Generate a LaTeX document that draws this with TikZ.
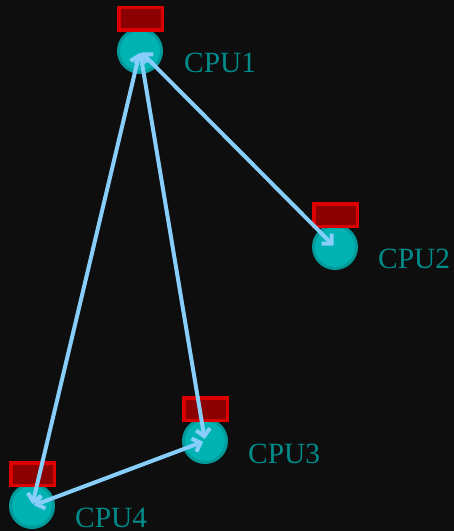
\documentclass[tikz,border=0pt]{standalone}
\usepackage{fontspec}
\setmainfont{Liberation Serif}
\usetikzlibrary{arrows.meta,calc}

\definecolor{bgdark}{HTML}{0E0E0E}
\definecolor{cpufill}{HTML}{00B3B3}
\definecolor{cpuring}{HTML}{009A9A}
\definecolor{cputext}{HTML}{008B8B}
\definecolor{lockred}{HTML}{DD0000}
\definecolor{lockfill}{HTML}{8B0000}
\definecolor{linkblue}{HTML}{87CEFA}

\begin{document}
\begin{tikzpicture}[x=1bp,y=-1bp,
  cpu/.style={circle,fill=cpufill,draw=cpuring,line width=3bp,minimum size=43bp,inner sep=0pt},
  lock/.style={rectangle,fill=lockfill,draw=lockred,line width=3.5bp,minimum width=43.5bp,minimum height=22.5bp,inner sep=0pt},
  link/.style={draw=linkblue,line width=4bp,{Straight Barb[length=7bp,width=14bp]}-{Straight Barb[length=7bp,width=14bp]},shorten <=2bp,shorten >=2bp},
  lbl/.style={anchor=base west,inner sep=0pt,text=cputext,font=\fontsize{29.5}{31}\selectfont}]

\fill[bgdark] (0,0) rectangle (454,531);
\useasboundingbox (0,0) rectangle (454,531);

\node[cpu] (cpu1) at (140,51) {};
\node[cpu] (cpu2) at (335,247) {};
\node[cpu] (cpu3) at (205,441) {};
\node[cpu] (cpu4) at (32,506) {};

\node[lock] (lock1) at ($(cpu1)+(0.5,-32)$) {};
\node[lock] (lock2) at ($(cpu2)+(0.5,-32)$) {};
\node[lock] (lock3) at ($(cpu3)+(0.5,-32)$) {};
\node[lock] (lock4) at ($(cpu4)+(0.5,-32)$) {};

\node[lbl] (lab1) at ($(cpu1)+(44,22)$) {CPU1};
\node[lbl] (lab2) at ($(cpu2)+(43,21)$) {CPU2};
\node[lbl] (lab3) at ($(cpu3)+(43,22)$) {CPU3};
\node[lbl] (lab4) at ($(cpu4)+(43,21)$) {CPU4};

\draw[link] (cpu1.center) -- (cpu2.center);
\draw[link] (cpu1.center) -- (cpu3.center);
\draw[link] (cpu1.center) -- (cpu4.center);
\draw[link] (cpu3.center) -- (cpu4.center);

\end{tikzpicture}
\end{document}
